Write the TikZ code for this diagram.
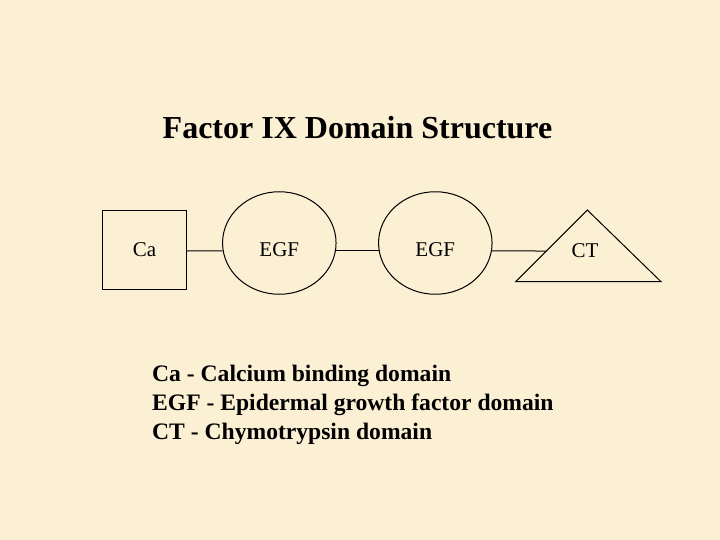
\documentclass[tikz,border=0pt]{standalone}
\usepackage{fontspec}
\setmainfont{Liberation Serif}
\usetikzlibrary{shapes.geometric,calc}
\definecolor{paper}{RGB}{252,240,212}
\tikzset{
  shapeline/.style={draw=black,line width=1pt},
  domainbox/.style={shapeline,rectangle,minimum width=84.4pt,minimum height=78pt,inner sep=0pt,font=\fontsize{21}{24}\selectfont},
  domainell/.style={shapeline,ellipse,minimum width=113.5pt,minimum height=102.5pt,inner sep=0pt,text height=26pt,text depth=0pt,font=\fontsize{21}{24}\selectfont},
  lbl/.style={inner sep=0pt,font=\fontsize{21}{24}\selectfont},
  legend/.style={inner sep=0pt,anchor=base west,font=\bfseries\fontsize{23.6}{27}\selectfont},
  link/.style={draw=black,line width=1pt}
}
\begin{document}
\begin{tikzpicture}[x=1pt,y=-1pt]
\fill[paper] (0,0) rectangle (720,540);
\useasboundingbox (0,0) rectangle (720,540);
\node[inner sep=0pt,anchor=base,font=\bfseries\fontsize{32}{36}\selectfont] (title) at (357.5,138.3) {Factor IX Domain Structure};
\node[domainbox] (ca) at (144.5,250) {Ca};
\node[domainell] (egf1) at (279.3,243) {EGF};
\node[domainell] (egf2) at (435.3,243) {EGF};
\coordinate (ttop) at (587.3,210);
\coordinate (tbl) at (515.7,281.7);
\coordinate (tbr) at (661,281.7);
\draw[shapeline,line join=miter] (ttop) -- (tbr) -- (tbl) -- cycle;
\node[lbl,anchor=base] (ct) at (585,257.3) {CT};
\coordinate (ctedge) at ($(tbl)!0.428!(ttop)$);
\draw[link] ([yshift=-1pt]ca.east) -- (egf1.188);
\draw[link] (egf1.352) -- (egf2.188);
\draw[link] (egf2.352) -- (ctedge);
\node[legend] (l1) at (152,381.7) {Ca - Calcium binding domain};
\node[legend] (l2) at (152,410.7) {EGF - Epidermal growth factor domain};
\node[legend] (l3) at (152,439.7) {CT - Chymotrypsin domain};
\end{tikzpicture}
\end{document}
